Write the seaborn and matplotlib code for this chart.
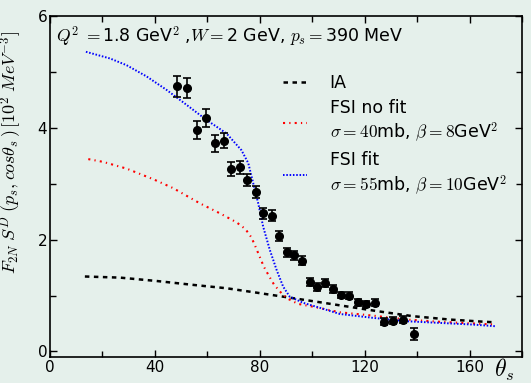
import numpy as np
import pandas as pd
import matplotlib
matplotlib.use("Agg")
import matplotlib.pyplot as plt
import seaborn as sns

# data points (theta_s in degrees, F2N S^D in 10^2 MeV^-3)
theta_data = [48.5, 52.3, 56.0, 59.4, 62.9, 66.2, 69.2, 72.4, 75.3, 78.5,
              81.4, 84.5, 87.4, 90.3, 93.1, 96.0, 99.0, 102.0, 104.9, 107.9,
              111.0, 114.0, 117.3, 120.4, 123.8, 127.2, 130.9, 134.7, 138.9]
val_data = [4.74, 4.71, 3.96, 4.18, 3.72, 3.77, 3.26, 3.29, 3.07, 2.85,
            2.47, 2.43, 2.06, 1.77, 1.72, 1.62, 1.24, 1.15, 1.22, 1.12,
            1.01, 1.00, 0.88, 0.85, 0.87, 0.53, 0.55, 0.57, 0.31]
err_data = [0.19, 0.18, 0.16, 0.16, 0.15, 0.14, 0.12, 0.12, 0.11, 0.11,
            0.10, 0.10, 0.09, 0.08, 0.08, 0.08, 0.07, 0.07, 0.07, 0.07,
            0.06, 0.06, 0.06, 0.06, 0.06, 0.06, 0.06, 0.06, 0.11]

# IA curve
theta_ia = [13.3, 26.7, 40.6, 54.6, 67.3, 77.5, 90.2, 102.9, 111.1, 124.8, 138.4, 152.4, 165.7, 170.0]
val_ia = [1.34, 1.32, 1.26, 1.19, 1.13, 1.06, 0.97, 0.88, 0.82, 0.72, 0.63, 0.57, 0.53, 0.52]

# FSI no fit curve
theta_nofit = [14.6, 20.3, 29.2, 39.4, 47.0, 57.1, 64.8, 71.1, 74.5, 76.8, 78.4, 80.0,
               81.5, 83.5, 85.5, 88.3, 90.8, 94.6, 100.3, 110.5, 123.2, 135.9, 148.6, 161.3, 170.0]
val_nofit = [3.44, 3.39, 3.27, 3.08, 2.92, 2.65, 2.47, 2.31, 2.19, 2.04, 1.87, 1.69,
             1.52, 1.35, 1.19, 1.04, 0.94, 0.85, 0.80, 0.70, 0.64, 0.57, 0.53, 0.50, 0.48]

# FSI fit curve
theta_fit = [13.7, 22.9, 29.2, 36.8, 44.4, 52.1, 59.7, 67.3, 73.0, 75.6, 77.5, 79.4,
             81.3, 83.8, 86.4, 88.9, 91.4, 96.5, 102.9, 110.5, 123.2, 135.9, 148.6, 161.3, 170.0]
val_fit = [5.36, 5.24, 5.12, 4.92, 4.68, 4.41, 4.14, 3.90, 3.60, 3.37, 3.01, 2.65,
           2.23, 1.82, 1.46, 1.16, 0.98, 0.87, 0.78, 0.67, 0.60, 0.54, 0.51, 0.48, 0.45]

labels = ["IA",
          "FSI no fit\n$\\sigma=40$mb, $\\beta=8$GeV$^2$",
          "FSI fit\n$\\sigma=55$mb, $\\beta=10$GeV$^2$"]

bg = "#e5f0eb"
sns.set_style("ticks")
plt.rcParams["font.family"] = ["DejaVu Sans"]
plt.rcParams["mathtext.fontset"] = "cm"
plt.rcParams["text.color"] = "black"
plt.rcParams["axes.labelcolor"] = "black"
plt.rcParams["xtick.color"] = "black"
plt.rcParams["ytick.color"] = "black"

fig = plt.figure(figsize=(5.31, 3.83), dpi=100, facecolor=bg)
ax = fig.add_axes([50 / 531, 26 / 383, 472 / 531, 341 / 383])
ax.set_facecolor(bg)

df_ia = pd.DataFrame({"theta": theta_ia, "val": val_ia})
df_nofit = pd.DataFrame({"theta": theta_nofit, "val": val_nofit})
df_fit = pd.DataFrame({"theta": theta_fit, "val": val_fit})

sns.lineplot(data=df_ia, x="theta", y="val", ax=ax, color="black", lw=1.8,
             linestyle=(0, (1.8, 1.8)), label=labels[0])
sns.lineplot(data=df_nofit, x="theta", y="val", ax=ax, color="red", lw=1.5,
             linestyle=(0, (1.0, 2.0, 0.6, 2.0)), label=labels[1])
sns.lineplot(data=df_fit, x="theta", y="val", ax=ax, color="blue", lw=1.4,
             linestyle=(0, (0.8, 0.9)), label=labels[2])

ax.errorbar(theta_data, val_data, yerr=err_data, fmt="o", color="black",
            ms=5.5, capsize=3, elinewidth=1.2, capthick=1.2, zorder=5)

ax.set_xlim(0, 180)
ax.set_ylim(-0.1, 6)
ax.set_xticks([0, 40, 80, 120, 160])
ax.set_xticks([20, 60, 100, 140, 180], minor=True)
ax.set_yticks([0, 2, 4, 6])
ax.set_yticks([1, 3, 5], minor=True)
ax.tick_params(which="both", direction="in", top=True, right=True,
               labelsize=11, pad=2, width=1)
ax.tick_params(which="major", length=5)
ax.tick_params(which="minor", length=4)
for s in ax.spines.values():
    s.set_linewidth(1.2)
    s.set_color("black")

ax.set_xlabel("")
ax.set_ylabel(r"$F_{2N}\;S^D\;(p_s,cos\theta_s\,)\,[10^2\;MeV^{-3}]$", fontsize=13)
ax.yaxis.set_label_coords(-0.055, 0.60)
ax.text(173, -0.33, r"$\theta_s$", fontsize=17, ha="center", va="center", clip_on=False)

ax.text(0.012, 0.975, r"$Q^2\;=$1.8 GeV$^2$ ,$W=$2 GeV, $p_s=$390 MeV",
        transform=ax.transAxes, fontsize=12.5, ha="left", va="top")

ax.legend(loc="upper left", bbox_to_anchor=(0.46, 0.875), frameon=False,
          fontsize=12.5, handlelength=1.4, handletextpad=1.3, labelspacing=0.4)

fig.savefig("out.png", dpi=100, facecolor=bg)
